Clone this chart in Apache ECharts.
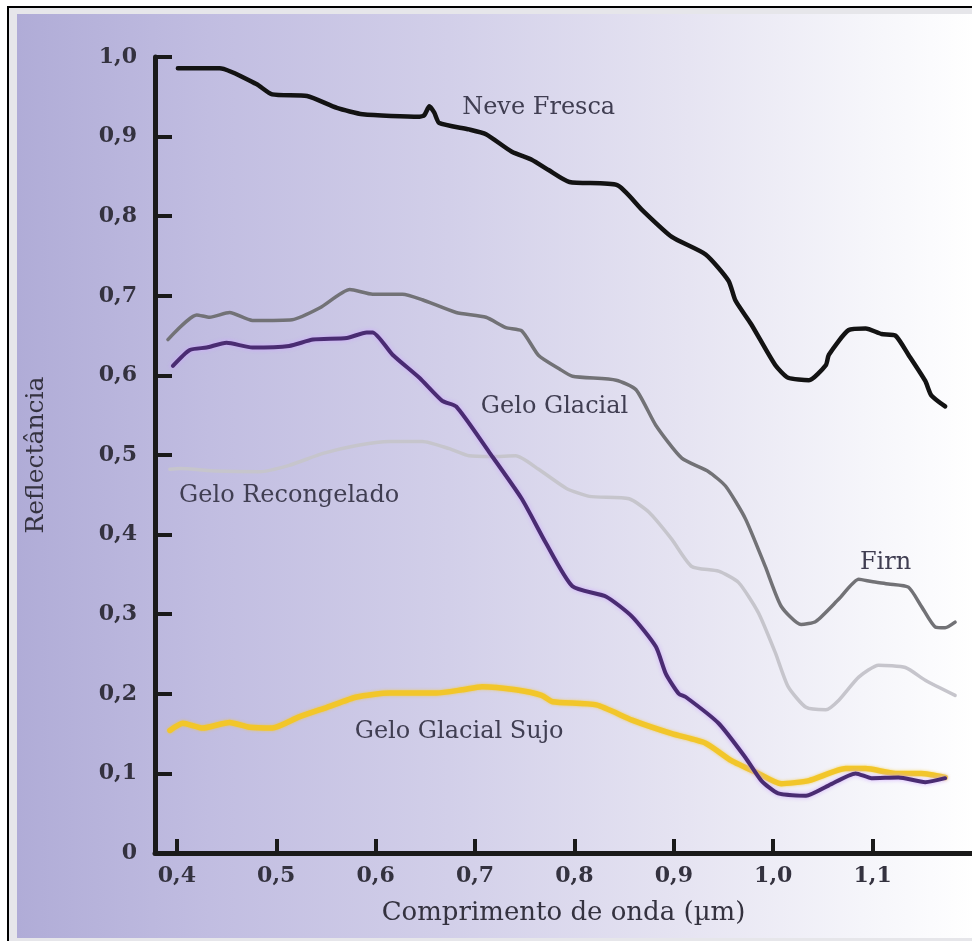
<!DOCTYPE html>
<html>
<head>
<meta charset="utf-8">
<script src="https://cdn.jsdelivr.net/npm/echarts@6/dist/echarts.min.js"></script>
<style>
  html, body { margin: 0; padding: 0; background: #ffffff; }
  #chart { width: 972px; height: 941px; }
</style>
</head>
<body>
<div id="chart"></div>
<script>
// Spectral reflectance of snow and ice surfaces, [wavelength µm, reflectance]
const neveFresca = [
  [0.401,0.986],[0.443,0.986],[0.480,0.966],[0.496,0.953],[0.531,0.951],[0.561,0.936],
  [0.587,0.928],[0.644,0.925],[0.649,0.927],[0.654,0.938],[0.659,0.930],[0.664,0.917],
  [0.694,0.909],[0.711,0.903],[0.737,0.881],[0.757,0.871],[0.774,0.858],[0.795,0.843],
  [0.843,0.839],[0.868,0.808],[0.898,0.774],[0.932,0.752],[0.955,0.719],[0.962,0.694],
  [0.978,0.664],[1.002,0.613],[1.015,0.597],[1.036,0.594],[1.053,0.613],[1.056,0.626],
  [1.076,0.657],[1.093,0.659],[1.109,0.652],[1.123,0.650],[1.136,0.626],[1.153,0.593],
  [1.159,0.575],[1.173,0.561]
];
const firn = [
  [0.391,0.645],[0.420,0.676],[0.433,0.673],[0.453,0.679],[0.476,0.669],[0.516,0.670],
  [0.544,0.685],[0.574,0.708],[0.597,0.702],[0.627,0.702],[0.647,0.695],[0.681,0.679],
  [0.711,0.673],[0.731,0.660],[0.747,0.656],[0.764,0.625],[0.785,0.608],[0.798,0.599],
  [0.842,0.594],[0.862,0.582],[0.882,0.537],[0.908,0.496],[0.935,0.479],[0.952,0.461],
  [0.972,0.420],[0.992,0.360],[1.008,0.310],[1.028,0.287],[1.043,0.291],[1.066,0.319],
  [1.086,0.344],[1.099,0.341],[1.116,0.338],[1.136,0.334],[1.149,0.310],[1.163,0.284],
  [1.173,0.283],[1.183,0.290]
];
const geloRecongelado = [
  [0.393,0.482],[0.403,0.483],[0.440,0.480],[0.483,0.479],[0.513,0.487],[0.547,0.502],
  [0.581,0.512],[0.614,0.517],[0.647,0.517],[0.674,0.508],[0.694,0.499],[0.717,0.498],
  [0.741,0.499],[0.764,0.482],[0.792,0.458],[0.815,0.448],[0.855,0.445],[0.875,0.428],
  [0.898,0.394],[0.918,0.360],[0.945,0.354],[0.965,0.340],[0.985,0.302],[1.002,0.252],
  [1.015,0.209],[1.033,0.183],[1.053,0.180],[1.066,0.192],[1.086,0.221],[1.106,0.236],
  [1.133,0.233],[1.153,0.217],[1.183,0.198]
];
const geloGlacial = [
  [0.396,0.612],[0.413,0.632],[0.430,0.635],[0.450,0.641],[0.476,0.635],[0.513,0.637],
  [0.537,0.645],[0.571,0.647],[0.591,0.654],[0.597,0.654],[0.617,0.626],[0.644,0.597],
  [0.667,0.568],[0.681,0.561],[0.714,0.504],[0.747,0.445],[0.771,0.390],[0.798,0.335],
  [0.832,0.322],[0.858,0.297],[0.882,0.259],[0.892,0.225],[0.905,0.200],[0.912,0.196],
  [0.945,0.163],[0.972,0.120],[0.988,0.091],[1.005,0.075],[1.033,0.072],[1.056,0.085],
  [1.083,0.100],[1.099,0.094],[1.126,0.095],[1.153,0.089],[1.173,0.094]
];
const geloGlacialSujo = [
  [0.393,0.154],[0.406,0.163],[0.426,0.157],[0.453,0.164],[0.473,0.158],[0.496,0.157],
  [0.523,0.171],[0.551,0.183],[0.581,0.196],[0.614,0.201],[0.661,0.201],[0.687,0.205],
  [0.707,0.209],[0.741,0.205],[0.767,0.198],[0.778,0.190],[0.822,0.186],[0.858,0.167],
  [0.898,0.150],[0.932,0.138],[0.958,0.116],[0.985,0.100],[1.008,0.087],[1.036,0.091],
  [1.073,0.106],[1.093,0.106],[1.123,0.100],[1.149,0.100],[1.173,0.095]
];

// Tick values and curve label anchors
const xTicks = [0.4, 0.5, 0.6, 0.7, 0.8, 0.9, 1.0, 1.1];
const labelNames = ['Neve Fresca', 'Gelo Glacial', 'Gelo Recongelado', 'Firn', 'Gelo Glacial Sujo'];
const labelAnchors = [[0.764,0.936],[0.780,0.561],[0.513,0.449],[1.113,0.365],[0.684,0.152]];

const serif = 'DejaVu Serif';
const textColor = '#34323f';
const fmt = v => (v === 0 ? '0' : v.toFixed(1).replace('.', ','));

function curveLabel(i) {
  return {
    symbol: 'circle',
    symbolSize: 0,
    silent: true,
    label: {
      show: true, position: 'inside', formatter: labelNames[i],
      fontFamily: serif, fontSize: 24, color: '#403e52'
    },
    data: [{ coord: labelAnchors[i] }]
  };
}

function line(name, data, color, width, extra, labelIdx) {
  return {
    name: name, type: 'line', data: data, showSymbol: false, smooth: 0.2,
    lineStyle: Object.assign({ color: color, width: width, cap: 'round', join: 'round' }, extra || {}),
    markPoint: curveLabel(labelIdx),
    z: 3
  };
}

const chart = echarts.init(document.getElementById('chart'), null, { renderer: 'canvas' });
chart.setOption({
  animation: false,
  backgroundColor: '#ffffff',
  graphic: [
    { type: 'rect', z: -20, shape: { x: 8, y: 7, width: 980, height: 940 },
      style: { fill: '#e6e6ea', stroke: '#000000', lineWidth: 2 } },
    { type: 'rect', z: -19, shape: { x: 17, y: 14, width: 960, height: 924 },
      style: { fill: new echarts.graphic.LinearGradient(0, 0, 1, 0, [
        { offset: 0, color: '#b0acd7' },
        { offset: 0.2, color: '#c1bde1' },
        { offset: 0.45, color: '#d2cfe9' },
        { offset: 0.7, color: '#e6e4f2' },
        { offset: 0.88, color: '#f5f5fa' },
        { offset: 1, color: '#ffffff' }
      ]) } }
  ],
  grid: { left: 155, right: 0, top: 57, bottom: 88, containLabel: false },
  xAxis: {
    type: 'value', min: 0.378, max: 1.2,
    name: 'Comprimento de onda (µm)', nameLocation: 'middle', nameGap: 47,
    nameTextStyle: { fontFamily: serif, fontSize: 26, color: textColor },
    axisLine: { show: true, lineStyle: { color: '#1a1a1a', width: 5 } },
    axisTick: { show: true, inside: true, length: 14, customValues: xTicks,
      lineStyle: { color: '#1a1a1a', width: 4 } },
    axisLabel: { show: true, customValues: xTicks, margin: 12, formatter: fmt,
      fontFamily: serif, fontSize: 22, fontWeight: 'bold', color: textColor },
    splitLine: { show: false }
  },
  yAxis: {
    type: 'value', min: 0, max: 1, interval: 0.1,
    name: 'Reflectância', nameLocation: 'middle', nameGap: 106, nameRotate: 90,
    nameTextStyle: { fontFamily: serif, fontSize: 25, color: textColor },
    axisLine: { show: true, lineStyle: { color: '#1a1a1a', width: 5 } },
    axisTick: { show: true, inside: true, length: 17, lineStyle: { color: '#1a1a1a', width: 4 } },
    axisLabel: { show: true, margin: 18, formatter: fmt,
      fontFamily: serif, fontSize: 22, fontWeight: 'bold', color: textColor },
    splitLine: { show: false }
  },
  series: [
    line('Gelo Recongelado', geloRecongelado, '#c6c5cc', 3.5, null, 2),
    line('Firn', firn, '#727276', 3.5, null, 3),
    line('Gelo Glacial Sujo', geloGlacialSujo, '#f2c62a', 5.5,
      { shadowColor: 'rgba(245,200,40,0.7)', shadowBlur: 3 }, 4),
    line('Gelo Glacial', geloGlacial, '#4a2c72', 4,
      { shadowColor: 'rgba(205,165,255,0.9)', shadowBlur: 4 }, 1),
    line('Neve Fresca', neveFresca, '#131313', 4.5, null, 0)
  ]
});
</script>
</body>
</html>
